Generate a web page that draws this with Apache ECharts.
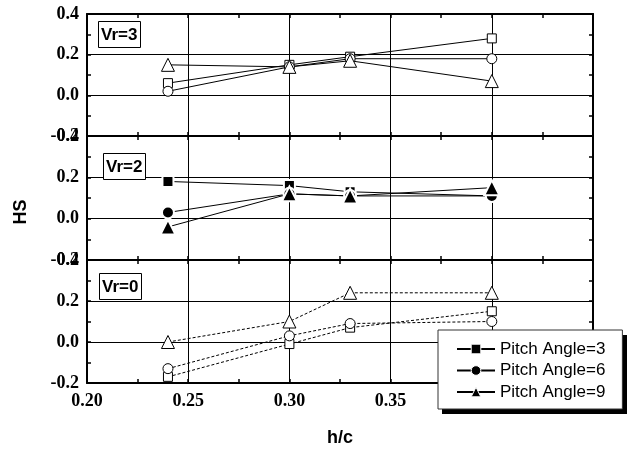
<!DOCTYPE html>
<html>
<head>
<meta charset="utf-8">
<script src="https://cdn.jsdelivr.net/npm/echarts@6/dist/echarts.min.js"></script>
<style>
html,body{margin:0;padding:0;background:#fff;}
#chart{width:633px;height:451px;}
</style>
</head>
<body>
<div id="chart"></div>
<script>
const hc = [0.24, 0.30, 0.33, 0.40];
const xTicks = [0.20, 0.25, 0.30, 0.35, 0.40, 0.45];
const yTicks = [-0.2, 0.0, 0.2, 0.4];
const panelLabels = ['Vr=3', 'Vr=2', 'Vr=0'];
const legendNames = ['Pitch Angle=3', 'Pitch Angle=6', 'Pitch Angle=9'];

// Vr=3 (open markers, solid lines)
const vr3_pa3 = [0.06, 0.15, 0.19, 0.28];
const vr3_pa6 = [0.02, 0.14, 0.18, 0.18];
const vr3_pa9 = [0.15, 0.14, 0.17, 0.07];
// Vr=2 (filled markers, solid lines)
const vr2_pa3 = [0.18, 0.16, 0.13, 0.11];
const vr2_pa6 = [0.03, 0.12, 0.11, 0.11];
const vr2_pa9 = [-0.04, 0.12, 0.11, 0.15];
// Vr=0 (open markers, dashed lines)
const vr0_pa3 = [-0.17, -0.01, 0.07, 0.15];
const vr0_pa6 = [-0.13, 0.03, 0.09, 0.10];
const vr0_pa9 = [0.00, 0.10, 0.24, 0.24];

const chart = echarts.init(document.getElementById('chart'));

const grids = [
  {left: 87, right: 40, top: 14, height: 122},
  {left: 87, right: 40, top: 136, height: 124},
  {left: 87, right: 40, top: 260, height: 123}
];

const serifLabel = {fontFamily: 'Liberation Serif', fontWeight: 'bold', fontSize: 18, color: '#000'};
const frame = {show: true, onZero: false, lineStyle: {color: '#000', width: 2}};
const tick = {show: true, inside: true, length: 4, lineStyle: {color: '#000', width: 1.5}};
const minor = {show: true, splitNumber: 2, length: 4, lineStyle: {color: '#000', width: 1.5}};

const xAxes = [], yAxes = [];
grids.forEach((g, i) => {
  xAxes.push({
    type: 'value', gridIndex: i, position: 'bottom',
    min: xTicks[0], max: xTicks[xTicks.length - 1], interval: 0.05,
    axisLine: frame, axisTick: tick, minorTick: minor,
    splitLine: {show: true, lineStyle: {color: '#000', width: 1}},
    axisLabel: Object.assign({show: i === 2, margin: 9, formatter: v => v.toFixed(2)}, serifLabel)
  });
  xAxes.push({
    type: 'value', gridIndex: i, position: 'top',
    min: xTicks[0], max: xTicks[xTicks.length - 1], interval: 0.05,
    axisLine: frame, axisTick: tick, minorTick: minor,
    splitLine: {show: false}, axisLabel: {show: false}
  });
  yAxes.push({
    type: 'value', gridIndex: i, position: 'left',
    min: yTicks[0], max: yTicks[yTicks.length - 1], interval: 0.2,
    axisLine: frame, axisTick: tick, minorTick: minor,
    splitLine: {show: true, lineStyle: {color: '#000', width: 1}},
    axisLabel: Object.assign({show: true, margin: 8, formatter: v => v.toFixed(1)}, serifLabel)
  });
  yAxes.push({
    type: 'value', gridIndex: i, position: 'right',
    min: yTicks[0], max: yTicks[yTicks.length - 1], interval: 0.2,
    axisLine: frame, axisTick: tick, minorTick: minor,
    splitLine: {show: false}, axisLabel: {show: false}
  });
});

const symbols = ['rect', 'circle', 'triangle'];
const sizes = [9, 10, 13];
const fsizes = [11, 12, 15];

function mk(name, vals, panel, k, filled, dashed) {
  return {
    type: 'line', name: name,
    xAxisIndex: panel * 2, yAxisIndex: panel * 2,
    data: hc.map((x, j) => [x, vals[j]]),
    symbol: symbols[k],
    symbolSize: filled ? fsizes[k] : sizes[k],
    showSymbol: true,
    lineStyle: {color: '#000', width: 1, type: dashed ? [3, 2] : 'solid'},
    itemStyle: filled ? {color: '#000', borderColor: '#fff', borderWidth: 2}
                      : {color: '#fff', borderColor: '#000', borderWidth: 1},
    emphasis: {disabled: true},
    animation: false,
    z: 3
  };
}

const series = [
  mk(legendNames[0], vr2_pa3, 1, 0, true, false),
  mk(legendNames[1], vr2_pa6, 1, 1, true, false),
  mk(legendNames[2], vr2_pa9, 1, 2, true, false),
  mk('Vr=3 PA=3', vr3_pa3, 0, 0, false, false),
  mk('Vr=3 PA=6', vr3_pa6, 0, 1, false, false),
  mk('Vr=3 PA=9', vr3_pa9, 0, 2, false, false),
  mk('Vr=0 PA=3', vr0_pa3, 2, 0, false, true),
  mk('Vr=0 PA=6', vr0_pa6, 2, 1, false, true),
  mk('Vr=0 PA=9', vr0_pa9, 2, 2, false, true)
];

const titlePos = [[98, 21], [103, 153], [99, 273]];

chart.setOption({
  backgroundColor: '#fff',
  animation: false,
  title: panelLabels.map((t, i) => ({
    text: t, left: titlePos[i][0], top: titlePos[i][1],
    padding: [5, 3, 4, 3],
    borderColor: '#000', borderWidth: 1, backgroundColor: '#fff',
    textStyle: {fontFamily: 'Liberation Sans', fontWeight: 'bold', fontSize: 17, color: '#000', lineHeight: 18}
  })),
  grid: grids,
  xAxis: xAxes,
  yAxis: yAxes,
  legend: {
    data: legendNames,
    orient: 'vertical',
    left: 438, top: 330,
    padding: [10, 17, 8, 18],
    itemWidth: 38, itemHeight: 12, itemGap: 3.5,
    itemTextGap: 5,
    itemStyle: {borderColor: '#fff', borderWidth: 1},
    backgroundColor: '#fff',
    borderColor: '#333', borderWidth: 1,
    textStyle: {fontFamily: 'Liberation Sans', fontSize: 17, color: '#000', lineHeight: 18},
    selectedMode: false,
    z: 10
  },
  graphic: [
    {type: 'rect', z: 9, shape: {x: 442, y: 335, width: 185, height: 79}, style: {fill: '#000'}},
    {type: 'text', x: 21, y: 212, rotation: Math.PI / 2,
     style: {text: 'HS', font: 'bold 18px "Liberation Sans"', fill: '#000', align: 'center', verticalAlign: 'middle'}},
    {type: 'text', x: 340, y: 438,
     style: {text: 'h/c', font: 'bold 18px "Liberation Sans"', fill: '#000', align: 'center', verticalAlign: 'middle'}}
  ],
  series: series
});
</script>
</body>
</html>
